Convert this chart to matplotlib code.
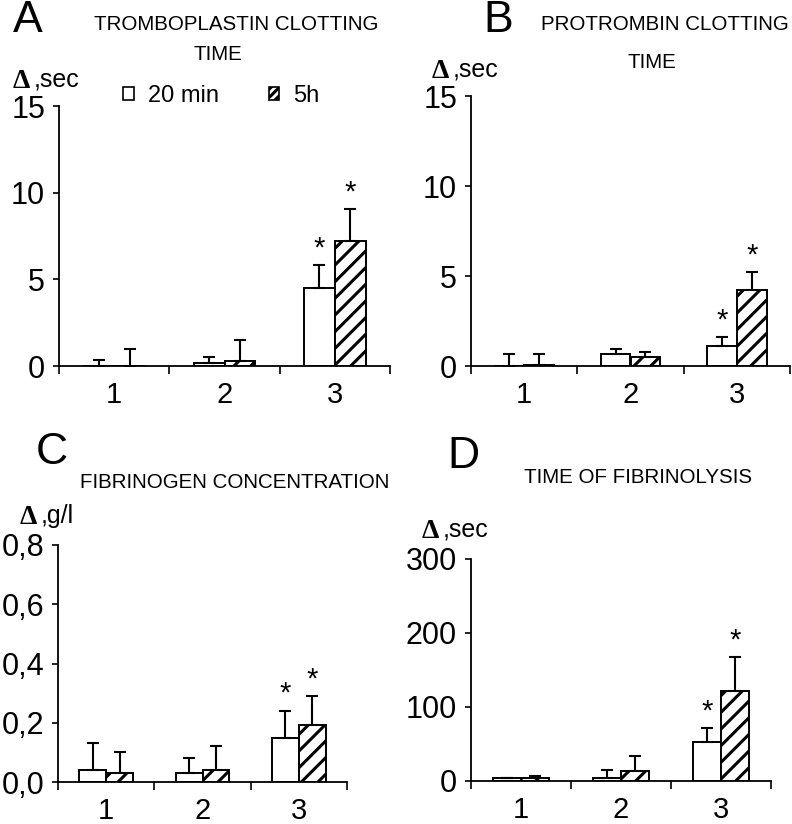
"""Four-panel bar chart: changes in coagulation parameters (20 min vs 5 h)."""

import matplotlib

matplotlib.use("Agg")

import matplotlib.pyplot as plt  # noqa: E402
from matplotlib.patches import Patch  # noqa: E402

plt.rcParams["font.family"] = ["Liberation Sans", "DejaVu Sans"]
plt.rcParams["hatch.linewidth"] = 2.2

# ─── Data ────────────────────────────────────────────────────────────────────

groups = ["1", "2", "3"]
series_names = ["20 min", "5h"]

# A: tromboplastin clotting time, delta sec
a_20min = [0.0, 0.2, 4.5]
a_20min_err = [0.35, 0.3, 1.3]
a_5h = [0.0, 0.3, 7.2]
a_5h_err = [1.0, 1.2, 1.85]

# B: protrombin clotting time, delta sec
b_20min = [0.0, 0.65, 1.12]
b_20min_err = [0.65, 0.32, 0.5]
b_5h = [0.05, 0.5, 4.25]
b_5h_err = [0.6, 0.3, 0.95]

# C: fibrinogen concentration, delta g/l
c_20min = [0.04, 0.03, 0.148]
c_20min_err = [0.09, 0.05, 0.093]
c_5h = [0.03, 0.04, 0.191]
c_5h_err = [0.07, 0.08, 0.099]

# D: time of fibrinolysis, delta sec
d_20min = [3.5, 3.5, 53.0]
d_20min_err = [0.5, 11.5, 18.0]
d_5h = [3.5, 13.5, 121.0]
d_5h_err = [3.0, 20.5, 46.0]

# significant differences (asterisks), per group
significant = [False, False, True]

# ─── Layout (pixel boxes: left, right, top, bottom) ─────────────────────────

W, H = 792, 824


def px_box(left, right, top, bottom):
    return [left / W, (H - bottom) / H, (right - left) / W, (bottom - top) / H]


def draw_panel(ax, v1, e1, v2, e2, ymax, yticks, yticklabels):
    bw = 0.28
    x = list(range(1, len(groups) + 1))
    x1 = [i - bw / 2 for i in x]
    x2 = [i + bw / 2 for i in x]
    ax.bar(x1, v1, width=bw, color="white", edgecolor="black", linewidth=1.4,
           zorder=2)
    ax.bar(x2, v2, width=bw, color="white", edgecolor="black", linewidth=1.4,
           hatch="//", zorder=2)
    for xs, vals, errs in ((x1, v1, e1), (x2, v2, e2)):
        ax.errorbar(xs, vals, yerr=[[0] * len(vals), errs], fmt="none",
                    ecolor="black", elinewidth=1.5, capsize=4.5, capthick=1.5,
                    zorder=3)
        for xi, v, e, s in zip(xs, vals, errs, significant):
            if s:
                ax.annotate("*", (xi, v + e), xytext=(0, 12),
                            textcoords="offset points", ha="center",
                            va="center", fontsize=21)
    ax.set_xlim(0.5, len(groups) + 0.5)
    ax.set_ylim(0, ymax)
    ax.set_xticks([i + 0.5 for i in range(len(groups) + 1)])
    ax.set_xticklabels([])
    ax.set_xticks(x, minor=True)
    ax.set_xticklabels(groups, minor=True)
    ax.tick_params(axis="x", which="major", direction="out", length=6,
                   width=1.2)
    ax.tick_params(axis="x", which="minor", length=0, pad=11, labelsize=21)
    ax.set_yticks(yticks)
    ax.set_yticklabels(yticklabels)
    ax.tick_params(axis="y", direction="out", length=4, width=1.2, pad=6,
                   labelsize=22)
    for side in ("top", "right"):
        ax.spines[side].set_visible(False)
    for side in ("left", "bottom"):
        ax.spines[side].set_linewidth(1.3)
    ax.patch.set_alpha(0)


def fig_text(x, y, s, **kw):
    fig.text(x / W, 1 - y / H, s, **kw)


def delta_label(x, y, unit):
    fig_text(x, y, "\u0394", family="Liberation Serif", fontsize=20,
             fontweight="bold", ha="left", va="center")
    fig_text(x + 21, y - 2, unit, fontsize=18, ha="left", va="center")


fig = plt.figure(figsize=(W / 100, H / 100), dpi=100)

ax_a = fig.add_axes(px_box(59, 390, 106, 366))
draw_panel(ax_a, a_20min, a_20min_err, a_5h, a_5h_err, 15,
           [0, 5, 10, 15], ["0", "5", "10", "15"])

ax_b = fig.add_axes(px_box(471, 790, 96, 366))
draw_panel(ax_b, b_20min, b_20min_err, b_5h, b_5h_err, 15,
           [0, 5, 10, 15], ["0", "5", "10", "15"])

c_ticks = [0.0, 0.2, 0.4, 0.6, 0.8]
ax_c = fig.add_axes(px_box(58, 347, 545, 782))
draw_panel(ax_c, c_20min, c_20min_err, c_5h, c_5h_err, 0.8,
           c_ticks, [f"{t:.1f}".replace(".", ",") for t in c_ticks])

ax_d = fig.add_axes(px_box(471, 771, 559, 781))
draw_panel(ax_d, d_20min, d_20min_err, d_5h, d_5h_err, 300,
           [0, 100, 200, 300], ["0", "100", "200", "300"])

# panel letters
for (lx, ly), letter in zip([(28, 20), (498, 20), (52, 452), (463, 456)],
                            "ABCD"):
    fig_text(lx, ly, letter, fontsize=32, ha="center", va="center")

# titles
title_kw = dict(fontsize=14.8, ha="center", va="center")
fig_text(236, 24, "TROMBOPLASTIN CLOTTING", **title_kw)
fig_text(218, 55, "TIME", **title_kw)
fig_text(665, 25, "PROTROMBIN CLOTTING", **title_kw)
fig_text(652, 63, "TIME", **title_kw)
fig_text(235, 483, "FIBRINOGEN CONCENTRATION", **title_kw)
fig_text(638, 478, "TIME OF FIBRINOLYSIS", **title_kw)

# axis units
delta_label(13, 82, ",sec")
delta_label(432, 71, ",sec")
delta_label(20, 518, ",g/l")
delta_label(422, 532, ",sec")

# legend
handles = [
    Patch(facecolor="white", edgecolor="black", linewidth=1.2),
    Patch(facecolor="white", edgecolor="black", linewidth=1.2, hatch="////"),
]
fig.legend(handles, series_names, loc="center left",
           bbox_to_anchor=(102 / W, 1 - 96 / H), ncol=2, frameon=False,
           fontsize=17, handlelength=0.45, handleheight=0.45,
           handletextpad=0.6, columnspacing=2.1)

fig.savefig("out.png", dpi=100)
